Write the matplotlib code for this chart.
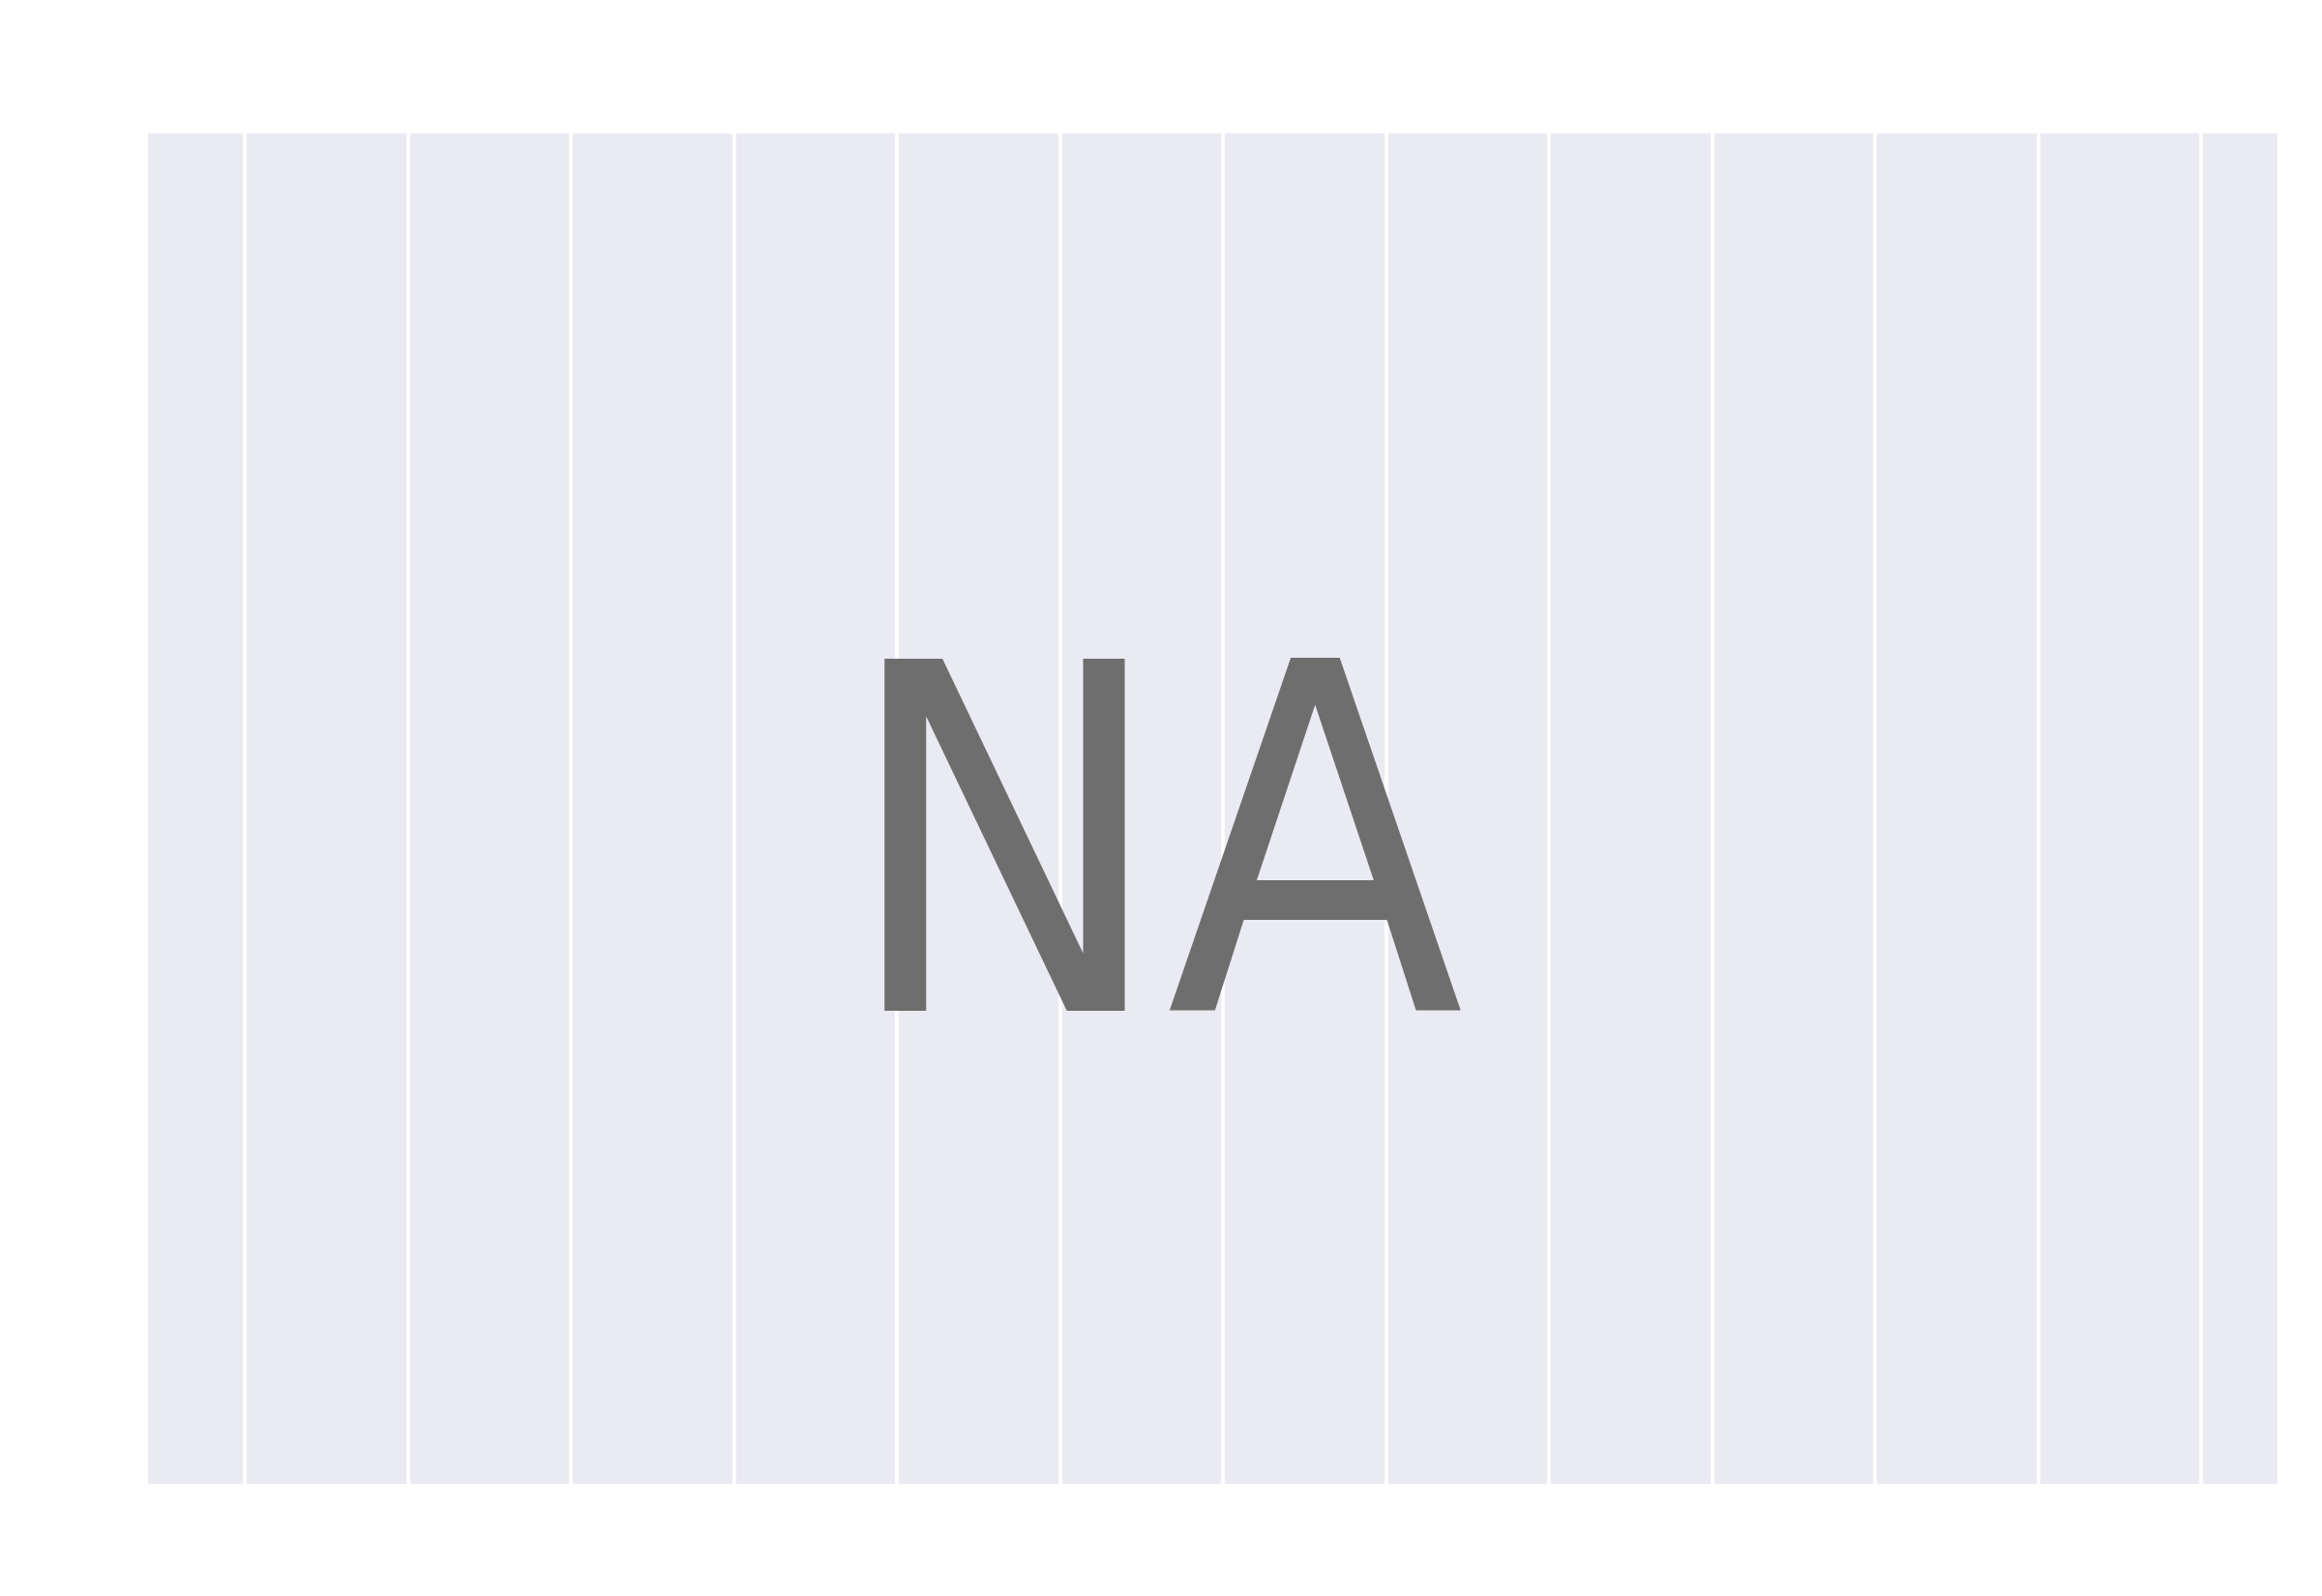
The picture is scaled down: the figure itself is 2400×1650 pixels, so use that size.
import matplotlib
matplotlib.use('Agg')
import matplotlib.pyplot as plt

# no data rows: just an empty frame with an NA placeholder
x_ticks = [1, 2, 3, 4, 5, 6, 7, 8, 9, 10, 11, 12, 13]
x_limits = (0.407, 13.469)
placeholder = 'NA'

fig = plt.figure(figsize=(8, 5.5), dpi=300)
ax = fig.add_axes([0.0638, 0.0703, 0.9172, 0.8462])
ax.set_facecolor('#EAEAF2')
for s in ax.spines.values():
    s.set_visible(False)
ax.set_xlim(*x_limits)
ax.set_ylim(0, 1)
ax.set_xticks(x_ticks)
ax.set_yticks([])
ax.tick_params(axis='x', length=0, labelbottom=False)
ax.grid(axis='x', color='white', linewidth=0.9)
ax.set_axisbelow(True)

# big grey placeholder where the data would be
ax.text(0.472, 0.350, placeholder, transform=ax.transAxes, ha='center', va='baseline',
        fontsize=120, color='#6e6e6e', family='DejaVu Sans', fontstretch='condensed')

fig.savefig('out.png')
